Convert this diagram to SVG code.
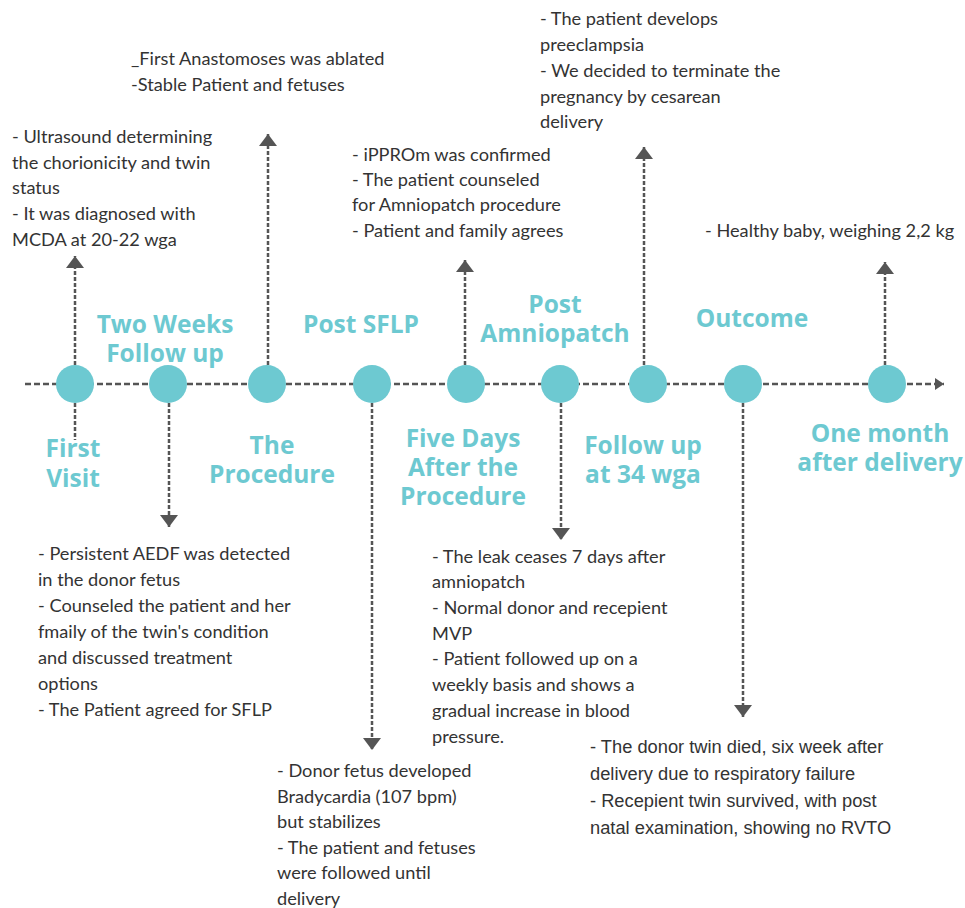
<svg xmlns="http://www.w3.org/2000/svg" width="965" height="908" viewBox="0 0 965 908">
<defs>
<marker id="ah" markerUnits="userSpaceOnUse" markerWidth="14" markerHeight="20" refX="12" refY="9" orient="auto">
<path d="M0,0 L12,9 L0,18 Z" fill="#555"/>
</marker>
<marker id="ahs" markerUnits="userSpaceOnUse" markerWidth="12" markerHeight="14" refX="9" refY="6" orient="auto">
<path d="M0,0 L9,6 L0,12 Z" fill="#555"/>
</marker>
<style>
.c{stroke:#555;stroke-width:2.5;stroke-dasharray:4 2;fill:none}
.h{stroke:#555;stroke-width:2.5;stroke-dasharray:6 3;fill:none}
.n{fill:#6dc9d1}
.l{font-family:"Open Sans",sans-serif;font-weight:700;font-size:24.5px;fill:#6dc9d1;text-anchor:middle}
.t{font-family:Lato,sans-serif;font-size:18.2px;fill:#333}
.a{font-family:"Liberation Sans",Arial,sans-serif;font-size:18.3px;fill:#333}
</style>
</defs>
<rect width="965" height="908" fill="#fff"/>
<g id="connectors">
<line class="h" x1="25" y1="384" x2="944" y2="384" marker-end="url(#ahs)"/>
<line class="c" x1="75" y1="365" x2="75" y2="256" marker-end="url(#ah)"/>
<line class="c" x1="75" y1="403" x2="75" y2="440"/>
<line class="c" x1="169" y1="403" x2="169" y2="527" marker-end="url(#ah)"/>
<line class="c" x1="268" y1="365" x2="268" y2="134" marker-end="url(#ah)"/>
<line class="c" x1="372" y1="403" x2="372" y2="750" marker-end="url(#ah)"/>
<line class="c" x1="465" y1="365" x2="465" y2="260" marker-end="url(#ah)"/>
<line class="c" x1="561" y1="403" x2="561" y2="540" marker-end="url(#ah)"/>
<line class="c" x1="644" y1="365" x2="644" y2="147" marker-end="url(#ah)"/>
<line class="c" x1="743" y1="403" x2="743" y2="717" marker-end="url(#ah)"/>
<line class="c" x1="885" y1="365" x2="885" y2="262" marker-end="url(#ah)"/>
</g>
<g id="first-visit">
<circle class="n" cx="75" cy="384" r="19"/>
<text class="l" x="73" y="457">First</text>
<text class="l" x="73" y="487">Visit</text>
<text class="t" x="12" y="143">- Ultrasound determining</text>
<text class="t" x="12" y="169">the chorionicity and twin</text>
<text class="t" x="12" y="194">status</text>
<text class="t" x="12" y="220">- It was diagnosed with</text>
<text class="t" x="12" y="246">MCDA at 20-22 wga</text>
</g>
<g id="two-weeks">
<circle class="n" cx="168" cy="384" r="19"/>
<text class="l" x="165" y="333">Two Weeks</text>
<text class="l" x="165" y="362">Follow up</text>
<text class="t" x="38" y="560">- Persistent AEDF was detected</text>
<text class="t" x="38" y="586">in the donor fetus</text>
<text class="t" x="38" y="612">- Counseled the patient and her</text>
<text class="t" x="38" y="638">fmaily of the twin's condition</text>
<text class="t" x="38" y="664">and discussed treatment</text>
<text class="t" x="38" y="690">options</text>
<text class="t" x="38" y="716">- The Patient agreed for SFLP</text>
</g>
<g id="procedure">
<circle class="n" cx="267" cy="384" r="19"/>
<text class="l" x="272" y="454">The</text>
<text class="l" x="272" y="483">Procedure</text>
<text class="t" x="131" y="65">_First Anastomoses was ablated</text>
<text class="t" x="131" y="91">-Stable Patient and fetuses</text>
</g>
<g id="post-sflp">
<circle class="n" cx="372" cy="384" r="19"/>
<text class="l" x="361" y="333">Post SFLP</text>
<text class="t" x="277" y="777">- Donor fetus developed</text>
<text class="t" x="277" y="803">Bradycardia (107 bpm)</text>
<text class="t" x="277" y="828">but stabilizes</text>
<text class="t" x="277" y="854">- The patient and fetuses</text>
<text class="t" x="277" y="879">were followed until</text>
<text class="t" x="277" y="905">delivery</text>
</g>
<g id="five-days">
<circle class="n" cx="466" cy="384" r="19"/>
<text class="l" x="463" y="447">Five Days</text>
<text class="l" x="463" y="476">After the</text>
<text class="l" x="463" y="505">Procedure</text>
<text class="t" x="352" y="161">- iPPROm was confirmed</text>
<text class="t" x="352" y="186">- The patient counseled</text>
<text class="t" x="352" y="211">for Amniopatch procedure</text>
<text class="t" x="352" y="237">- Patient and family agrees</text>
</g>
<g id="post-amniopatch">
<circle class="n" cx="560" cy="384" r="19"/>
<text class="l" x="555" y="313">Post</text>
<text class="l" x="555" y="342">Amniopatch</text>
<text class="t" x="432" y="563">- The leak ceases 7 days after</text>
<text class="t" x="432" y="588">amniopatch</text>
<text class="t" x="432" y="614">- Normal donor and recepient</text>
<text class="t" x="432" y="640">MVP</text>
<text class="t" x="432" y="665">- Patient followed up on a</text>
<text class="t" x="432" y="691">weekly basis and shows a</text>
<text class="t" x="432" y="717">gradual increase in blood</text>
<text class="t" x="432" y="743">pressure.</text>
</g>
<g id="follow-up-34">
<circle class="n" cx="648" cy="384" r="19"/>
<text class="l" x="643" y="454">Follow up</text>
<text class="l" x="643" y="483">at 34 wga</text>
<text class="t" x="540" y="25">- The patient develops</text>
<text class="t" x="540" y="51">preeclampsia</text>
<text class="t" x="540" y="77">- We decided to terminate the</text>
<text class="t" x="540" y="103">pregnancy by cesarean</text>
<text class="t" x="540" y="128">delivery</text>
</g>
<g id="outcome">
<circle class="n" cx="743" cy="384" r="19"/>
<text class="l" x="752" y="327">Outcome</text>
<text class="a" x="590" y="753">- The donor twin died, six week after</text>
<text class="a" x="590" y="780">delivery due to respiratory failure</text>
<text class="a" x="590" y="807">- Recepient twin survived, with post</text>
<text class="a" x="590" y="834">natal examination, showing no RVTO</text>
</g>
<g id="one-month">
<circle class="n" cx="887" cy="384" r="19"/>
<text class="l" x="880" y="442">One month</text>
<text class="l" x="880" y="471">after delivery</text>
<text class="t" x="705" y="237">- Healthy baby, weighing 2,2 kg</text>
</g>
</svg>
